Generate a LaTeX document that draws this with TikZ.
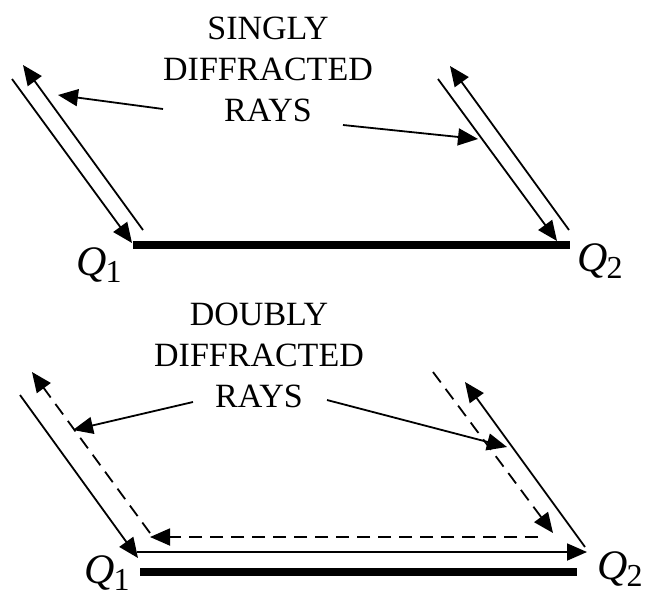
\documentclass[tikz,border=0pt]{standalone}
\usepackage{fontspec}
\setmainfont{Liberation Serif}
\usetikzlibrary{arrows.meta}

\newcommand{\qlab}[1]{\fontsize{42}{42}\selectfont\itshape Q\kern-1pt\raisebox{-7pt}{\upshape\fontsize{32}{32}\selectfont #1}}

\tikzset{
  ray/.style={line width=1.8pt, -{Triangle[length=20pt,width=17pt]}},
  dray/.style={ray, dash pattern=on 13pt off 8pt},
  wall/.style={line width=7.5pt},
  caption/.style={font=\fontsize{34}{41}\selectfont, align=center, inner sep=0pt},
  qnode/.style={anchor=base west, inner sep=0pt}
}

\begin{document}
\begin{tikzpicture}[x=1pt, y=-1pt]
  \useasboundingbox (0,0) rectangle (652,598);

  % singly diffracted
  \node[caption] (single) at (268,69) {SINGLY\\DIFFRACTED\\RAYS};
  \node[qnode] (q1a) at (76,275) {\qlab{1}};
  \node[qnode] (q2a) at (577,271) {\qlab{2}};
  \coordinate (a1) at (133,245);
  \coordinate (a2) at (570,245);
  \draw[wall] (a1) -- (a2);
  \coordinate (la) at (12,79);   \coordinate (lb) at (132,243);
  \coordinate (lc) at (143,230); \coordinate (ld) at (23,65);
  \coordinate (ra) at (438,79);  \coordinate (rb) at (557,241);
  \coordinate (rc) at (569,230); \coordinate (rd) at (450,66);
  \draw[ray] (la) -- (lb);
  \draw[ray] (lc) -- (ld);
  \draw[ray] (ra) -- (rb);
  \draw[ray] (rc) -- (rd);
  \coordinate (pa) at (163,109); \coordinate (pb) at (58,95);
  \coordinate (pc) at (343,125); \coordinate (pd) at (478,139);
  \draw[ray] (pa) -- (pb);
  \draw[ray] (pc) -- (pd);

  % doubly diffracted
  \node[caption] (double) at (259,355) {DOUBLY\\DIFFRACTED\\RAYS};
  \node[qnode] (q1b) at (84,583) {\qlab{1}};
  \node[qnode] (q2b) at (597,579) {\qlab{2}};
  \coordinate (b1) at (140,572);
  \coordinate (b2) at (577,572);
  \draw[wall] (b1) -- (b2);
  \coordinate (sa) at (20,395);  \coordinate (sb) at (138,558);
  \coordinate (sc) at (137,552); \coordinate (sd) at (587,552);
  \coordinate (se) at (585,547); \coordinate (sf) at (465,382);
  \draw[ray] (sa) -- (sb);
  \draw[ray] (sc) -- (sd);
  \draw[ray] (se) -- (sf);
  \coordinate (da) at (433,372); \coordinate (db) at (553,533);
  \coordinate (dc) at (538,537); \coordinate (dd) at (150,537);
  \coordinate (de) at (150,533); \coordinate (df) at (32,372);
  \draw[dray] (da) -- (db);
  \draw[dray] (dc) -- (dd);
  \draw[dray] (de) -- (df);
  \coordinate (pe) at (193,402); \coordinate (pf) at (73,430);
  \coordinate (pg) at (327,400); \coordinate (ph) at (507,447);
  \draw[ray] (pe) -- (pf);
  \draw[ray] (pg) -- (ph);
\end{tikzpicture}
\end{document}
